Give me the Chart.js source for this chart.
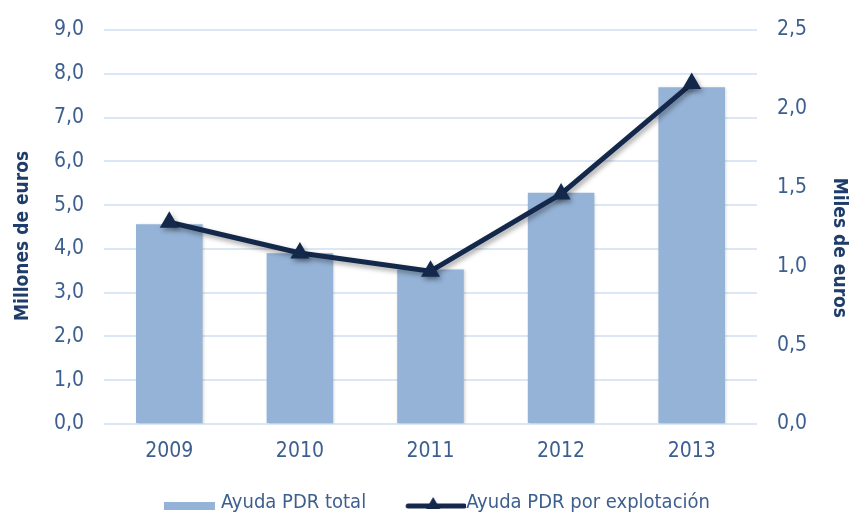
<!DOCTYPE html>
<html>
<head>
    <title>Ayuda PDR</title>
    <script src="https://cdn.jsdelivr.net/npm/chart.js"></script>
    <style>
        body {
            margin: 0;
            padding: 0;
            background: #ffffff;
        }
        .wrap {
            width: 850px;
            height: 516px;
        }
    </style>
</head>
<body>
    <div class="wrap">
        <canvas id="ayudaChart" width="850" height="516"></canvas>
    </div>

    <script>
    // data
    const years = ["2009", "2010", "2011", "2012", "2013"];
    const ayudaTotal = [4.56, 3.90, 3.53, 5.28, 7.69];        // millones de euros
    const ayudaExplotacion = [1.28, 1.085, 0.97, 1.46, 2.16];  // miles de euros
    const leftTicks = [0, 1, 2, 3, 4, 5, 6, 7, 8, 9];
    const rightTicks = [0, 0.5, 1, 1.5, 2, 2.5];

    const FONT = "'Liberation Sans Narrow', 'Arial Narrow', 'DejaVu Sans Condensed', sans-serif";
    const textColor = '#3d5f8f';
    const titleColor = '#1f3d6b';
    const barColor = '#95b3d7';
    const lineColor = '#14284b';

    function coma(v) {
        return v.toFixed(1).replace('.', ',');
    }

    // legend swatches, drawn as point style images (blank part = spacing)
    function barSwatch() {
        const c = document.createElement('canvas');
        c.width = 108; c.height = 18;
        const g = c.getContext('2d');
        g.fillStyle = barColor;
        g.fillRect(51, 8, 51, 8);
        return c;
    }
    function lineSwatch() {
        const c = document.createElement('canvas');
        c.width = 108; c.height = 22;
        const g = c.getContext('2d');
        g.strokeStyle = lineColor;
        g.lineWidth = 5;
        g.lineCap = 'round';
        g.beginPath();
        g.moveTo(50, 14); g.lineTo(106, 14);
        g.stroke();
        g.fillStyle = lineColor;
        g.beginPath();
        g.moveTo(75, 5); g.lineTo(82, 17); g.lineTo(68, 17);
        g.closePath();
        g.fill();
        return c;
    }

    const shadowPlugin = {
        id: 'shadow',
        beforeDatasetDraw(chart, args) {
            const ctx = chart.ctx;
            ctx.save();
            if (args.index === 1) {
                ctx.shadowColor = 'rgba(0,0,0,0.35)';
                ctx.shadowBlur = 5;
                ctx.shadowOffsetX = 2;
                ctx.shadowOffsetY = 3;
            } else {
                ctx.shadowColor = 'rgba(0,0,0,0.18)';
                ctx.shadowBlur = 3;
                ctx.shadowOffsetX = 1;
                ctx.shadowOffsetY = 1;
            }
        },
        afterDatasetDraw(chart) {
            chart.ctx.restore();
        }
    };

    // fixed widths for the side axes, no extra padding above the top tick
    function fitSide(width) {
        return function (scale) {
            scale.width = width;
            scale.paddingTop = 0;
            scale.paddingBottom = 0;
        };
    }

    const ctx = document.getElementById('ayudaChart').getContext('2d');
    const swatches = [barSwatch(), lineSwatch()];

    new Chart(ctx, {
        type: 'bar',
        data: {
            labels: years,
            datasets: [{
                label: 'Ayuda PDR total',
                data: ayudaTotal,
                backgroundColor: barColor,
                yAxisID: 'y',
                categoryPercentage: 1,
                barPercentage: 0.51,
                order: 1
            }, {
                type: 'line',
                label: 'Ayuda PDR por explotación',
                data: ayudaExplotacion,
                borderColor: lineColor,
                backgroundColor: lineColor,
                borderWidth: 5,
                pointStyle: 'triangle',
                pointRadius: 11,
                pointBorderWidth: 0,
                tension: 0,
                yAxisID: 'y1',
                order: 0
            }]
        },
        plugins: [shadowPlugin],
        options: {
            responsive: false,
            animation: false,
            layout: {
                padding: { top: 30, left: 0, right: 0, bottom: -7 }
            },
            plugins: {
                tooltip: { enabled: false },
                legend: {
                    position: 'bottom',
                    labels: {
                        usePointStyle: true,
                        pointStyleWidth: 88,
                        padding: 2,
                        color: textColor,
                        font: { family: FONT, size: 20 },
                        generateLabels() {
                            return [
                                { text: 'Ayuda PDR total', pointStyle: swatches[0], fillStyle: barColor, strokeStyle: barColor, lineWidth: 0, hidden: false, datasetIndex: 0, fontColor: textColor },
                                { text: 'Ayuda PDR por explotación   ', pointStyle: swatches[1], fillStyle: lineColor, strokeStyle: lineColor, lineWidth: 0, hidden: false, datasetIndex: 1, fontColor: textColor }
                            ];
                        }
                    }
                }
            },
            scales: {
                x: {
                    grid: { display: false, drawTicks: false },
                    border: { display: false },
                    afterFit(scale) {
                        scale.height = 67;
                    },
                    ticks: {
                        color: textColor,
                        font: { family: FONT, size: 21 },
                        padding: 15
                    }
                },
                y: {
                    position: 'left',
                    min: 0,
                    max: 9,
                    afterBuildTicks(scale) {
                        scale.ticks = leftTicks.map(v => ({ value: v }));
                    },
                    afterFit: fitSide(104),
                    grid: { color: '#dce7f5', lineWidth: 2, drawTicks: false },
                    border: { display: false },
                    ticks: {
                        color: textColor,
                        font: { family: FONT, size: 21 },
                        padding: 20,
                        callback: v => coma(v)
                    },
                    title: {
                        display: true,
                        text: 'Millones de euros   ',
                        color: titleColor,
                        font: { family: FONT, size: 19, weight: 'bold' },
                        padding: { top: 12, bottom: 0 }
                    }
                },
                y1: {
                    position: 'right',
                    min: 0,
                    max: 2.5,
                    afterBuildTicks(scale) {
                        scale.ticks = rightTicks.map(v => ({ value: v }));
                    },
                    afterFit: fitSide(93),
                    grid: { display: false, drawTicks: false },
                    border: { display: false },
                    ticks: {
                        color: textColor,
                        font: { family: FONT, size: 21 },
                        padding: 20,
                        callback: v => coma(v)
                    },
                    title: {
                        display: true,
                        text: '       Miles de euros',
                        color: titleColor,
                        font: { family: FONT, size: 19, weight: 'bold' },
                        padding: { top: 0, bottom: 4 }
                    }
                }
            }
        }
    });
    </script>
</body>
</html>
